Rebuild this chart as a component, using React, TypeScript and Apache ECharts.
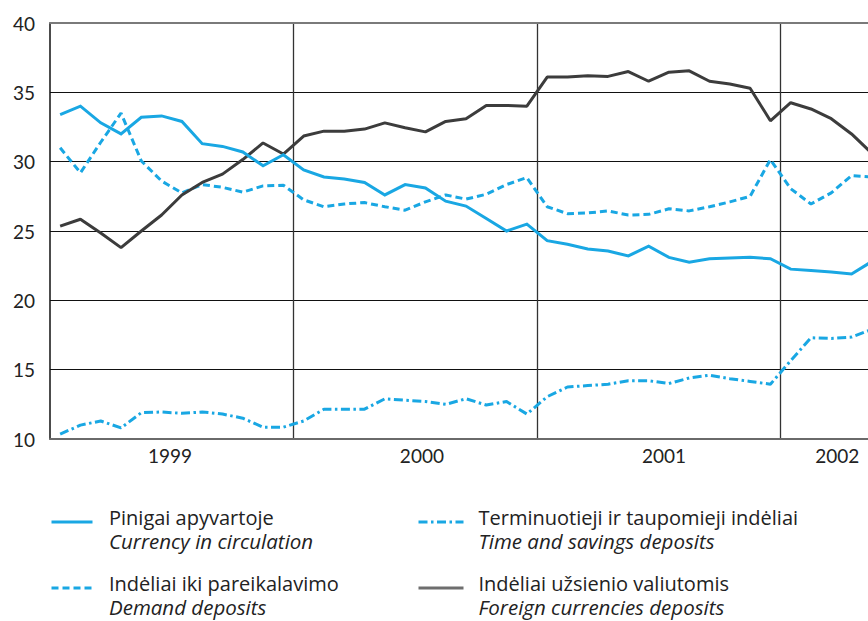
import React, { useEffect, useRef } from 'react';
import * as echarts from 'echarts';

const months = [
  '1999-01', '1999-02', '1999-03', '1999-04', '1999-05', '1999-06', '1999-07', '1999-08', '1999-09', '1999-10', '1999-11', '1999-12',
  '2000-01', '2000-02', '2000-03', '2000-04', '2000-05', '2000-06', '2000-07', '2000-08', '2000-09', '2000-10', '2000-11', '2000-12',
  '2001-01', '2001-02', '2001-03', '2001-04', '2001-05', '2001-06', '2001-07', '2001-08', '2001-09', '2001-10', '2001-11', '2001-12',
  '2002-01', '2002-02', '2002-03', '2002-04', '2002-05',
];

const yearLabels = ['1999', '2000', '2001', '2002'];

const currency = [
  33.4, 34.0, 32.8, 32.0, 33.2, 33.3, 32.9, 31.3, 31.1, 30.7, 29.7, 30.5,
  29.4, 28.9, 28.75, 28.5, 27.6, 28.35, 28.1, 27.15, 26.8, 25.9, 25.0, 25.5,
  24.3, 24.05, 23.7, 23.55, 23.2, 23.9, 23.1, 22.75, 23.0, 23.05, 23.1, 23.0,
  22.25, 22.15, 22.05, 21.9, 22.8,
];

const demand = [
  31.0, 29.2, 31.4, 33.5, 30.05, 28.6, 27.75, 28.35, 28.15, 27.8, 28.25, 28.3,
  27.25, 26.75, 26.95, 27.05, 26.75, 26.5, 27.1, 27.6, 27.3, 27.65, 28.35, 28.85,
  26.75, 26.25, 26.3, 26.45, 26.15, 26.2, 26.6, 26.45, 26.75, 27.1, 27.5, 30.15,
  28.05, 26.95, 27.75, 29.0, 28.9,
];

const timeSavings = [
  10.35, 11.0, 11.3, 10.8, 11.9, 11.95, 11.85, 11.95, 11.8, 11.5, 10.85, 10.85,
  11.3, 12.15, 12.15, 12.15, 12.9, 12.8, 12.7, 12.5, 12.9, 12.45, 12.7, 11.8,
  13.05, 13.75, 13.85, 13.95, 14.2, 14.2, 14.0, 14.4, 14.6, 14.35, 14.15, 13.95,
  15.65, 17.3, 17.25, 17.35, 17.9,
];

const foreign = [
  25.35, 25.85, 24.85, 23.8, 25.0, 26.15, 27.6, 28.5, 29.1, 30.15, 31.35, 30.55,
  31.85, 32.2, 32.2, 32.35, 32.8, 32.45, 32.15, 32.9, 33.1, 34.05, 34.05, 34.0,
  36.1, 36.1, 36.2, 36.15, 36.5, 35.8, 36.45, 36.55, 35.8, 35.6, 35.3, 32.95,
  34.25, 33.8, 33.1, 32.0, 30.6,
];

const namesLt = [
  'Pinigai apyvartoje',
  'Indėliai iki pareikalavimo',
  'Terminuotieji ir taupomieji indėliai',
  'Indėliai užsienio valiutomis',
];
const namesEn = [
  'Currency in circulation',
  'Demand deposits',
  'Time and savings deposits',
  'Foreign currencies deposits',
];

const BLUE = '#19a7e3';
const DARK = '#3c3c3c';
const FONT = 'Lato, "Open Sans", sans-serif';
const LFONT = '"Open Sans", Lato, sans-serif';

// label index -> year label & rich style key
const yearLabelIdx: Record<number, number> = { 5: 0, 18: 1, 30: 2, 38: 3 };

export default function App() {
  const ref = useRef<HTMLDivElement>(null);

  useEffect(() => {
    document.body.style.margin = '0';
    if (!ref.current) return;
    const chart = echarts.init(ref.current, undefined, { renderer: 'svg' });

    const legendText = {
      fontFamily: LFONT,
      fontSize: 20,
      color: '#222',
      rich: {
        a: { fontFamily: LFONT, fontSize: 20, lineHeight: 24, color: '#222' },
        b: { fontFamily: LFONT, fontSize: 20.5, lineHeight: 24, fontStyle: 'italic', color: '#222' },
      },
    };
    const fmt = (name: string) => {
      const i = namesLt.indexOf(name);
      return `{a|${name}}\n{b|${namesEn[i]}}`;
    };
    const mkLegend = (i: number, left: number, top: number, w: number, padL: number, extra: any = {}) => ({
      data: [namesLt[i]],
      left,
      top,
      padding: 0,
      itemWidth: w,
      itemHeight: 14,
      selectedMode: false,
      formatter: fmt,
      textStyle: { ...legendText, padding: [14, 0, 0, padL] },
      lineStyle: { width: 3, ...extra },
      itemStyle: { color: 'rgba(0,0,0,0)', borderWidth: 0, borderColor: 'rgba(0,0,0,0)' },
    });

    chart.setOption({
      animation: false,
      backgroundColor: '#fff',
      grid: { left: 50, top: 23, width: 832, height: 416, outerBoundsMode: 'none', containLabel: false },
      legend: [
        mkLegend(0, 50, 507, 41, 11.5),
        mkLegend(2, 417, 507, 45, 10),
        mkLegend(1, 50, 573, 41, 11.5),
        mkLegend(3, 417, 573, 45, 10, { color: '#6e6e6e' }),
      ],
      xAxis: [
        {
          type: 'category',
          data: months,
          boundaryGap: true,
          axisLine: { show: true, lineStyle: { color: '#6a6a6a', width: 2 } },
          axisTick: { show: false },
          axisLabel: {
            interval: (idx: number) => yearLabelIdx[idx] !== undefined,
            margin: 6,
            formatter: (_v: string, idx: number) => {
              const k = yearLabelIdx[idx];
              return k === undefined ? '' : `{y${k}|${yearLabels[k]}}`;
            },
            rich: {
              y0: { fontFamily: FONT, fontSize: 19, color: '#222', lineHeight: 20, padding: [0, 0, 0, 17] },
              y1: { fontFamily: FONT, fontSize: 19, color: '#222', lineHeight: 20, padding: [0, 7, 0, 0] },
              y2: { fontFamily: FONT, fontSize: 19, color: '#222', lineHeight: 20, padding: [0, 10, 0, 0] },
              y3: { fontFamily: FONT, fontSize: 19, color: '#222', lineHeight: 20, padding: [0, 0, 0, 12] },
            },
          },
          splitLine: {
            show: true,
            interval: (idx: number) => idx > 0 && idx % 12 === 0,
            lineStyle: { color: '#333', width: 1.3 },
          },
        },
        {
          type: 'category',
          data: months,
          position: 'top',
          axisLine: { show: true, lineStyle: { color: '#7a7a7a', width: 2 } },
          axisTick: { show: false },
          axisLabel: { show: false },
          splitLine: { show: false },
        },
      ],
      yAxis: {
        type: 'value',
        min: 10,
        max: 40,
        interval: 5,
        axisLine: { show: true, lineStyle: { color: '#111', width: 1.5 } },
        axisTick: { show: false },
        axisLabel: { fontFamily: FONT, fontSize: 19, color: '#222', margin: 15 },
        splitLine: { show: true, lineStyle: { color: '#111', width: 1 } },
      },
      series: [
        {
          name: namesLt[0],
          type: 'line',
          data: currency,
          symbol: 'none',
          lineStyle: { color: BLUE, width: 3, join: 'miter' },
          itemStyle: { color: BLUE },
          z: 4,
        },
        {
          name: namesLt[1],
          type: 'line',
          data: demand,
          symbol: 'none',
          lineStyle: { color: BLUE, width: 3, type: [7, 4] },
          itemStyle: { color: BLUE },
          z: 3,
        },
        {
          name: namesLt[2],
          type: 'line',
          data: timeSavings,
          symbol: 'none',
          lineStyle: { color: BLUE, width: 3, type: [9, 3.5, 2.5, 3.5] },
          itemStyle: { color: BLUE },
          z: 3,
        },
        {
          name: namesLt[3],
          type: 'line',
          data: foreign,
          symbol: 'none',
          lineStyle: { color: DARK, width: 3 },
          itemStyle: { color: DARK },
          z: 3,
        },
      ],
    });

    return () => chart.dispose();
  }, []);

  return <div ref={ref} style={{ width: 868, height: 621 }} />;
}
